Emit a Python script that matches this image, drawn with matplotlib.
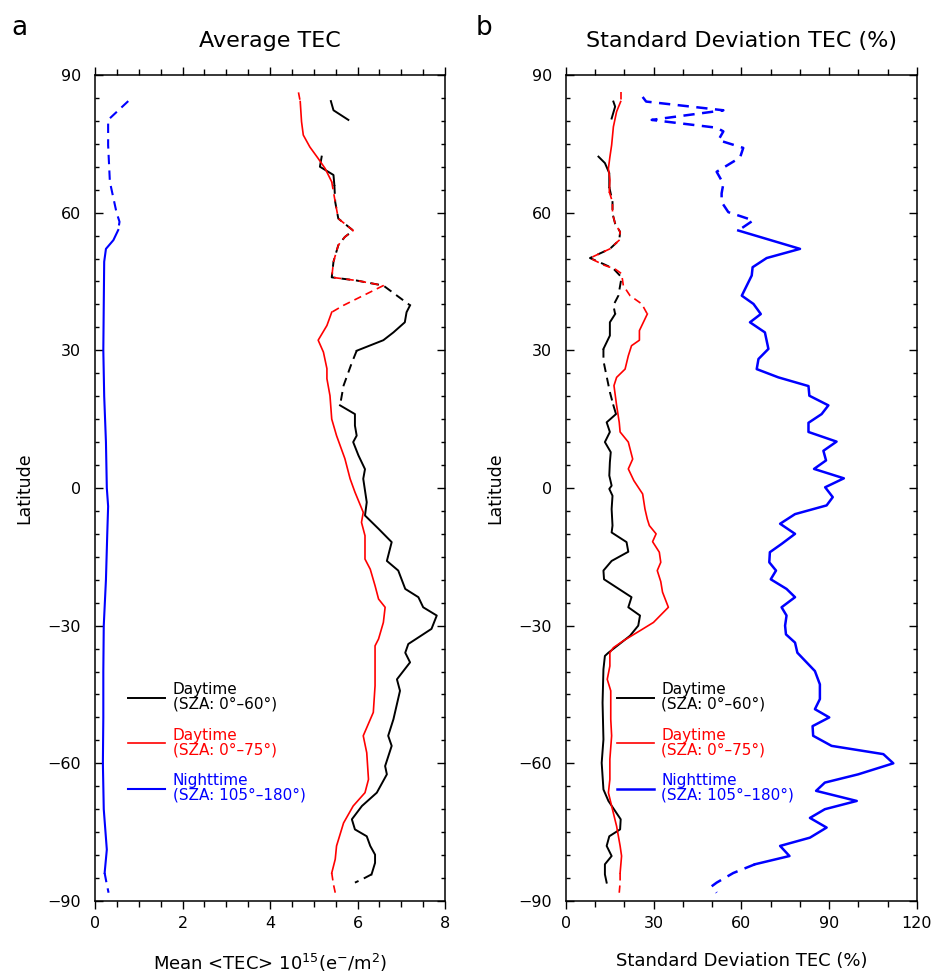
import numpy as np
import matplotlib
matplotlib.use("Agg")
import matplotlib.pyplot as plt
from matplotlib.ticker import MultipleLocator

# ---- panel a: mean TEC (10^15 e-/m^2) ----
a_black_lat = [84.3, 82.3, 80.2, 76, 72.2, 70, 68.2, 66, 62.3, 58.7, 56.1, 54.7, 52.9, 49.3, 45.9, 45.2,
               44.1, 39.8, 38.3, 36.1, 33.9, 32.2, 29.9, 27.3, 22.3, 18.0, 16.1, 13.6, 11.4, 10, 7.1, 4.1,
               2, -3.1, -6, -8.9, -11.8, -15.9, -18, -22, -23.8, -26, -27.8, -30.7, -32.2, -34, -35.9,
               -38, -41.7, -44.2, -50.4, -54, -56.2, -60.6, -62.4, -66.4, -69.3, -72.2, -74.4, -75.9,
               -78, -79.9, -81.7, -84.2, -85.2, -86]
a_black = [5.39, 5.45, 5.79, np.nan, 5.18, 5.14, 5.45, 5.47, 5.49, 5.56, 5.90, 5.71, 5.56, 5.45, 5.41, 5.98,
           6.59, 7.20, 7.12, 7.08, 6.82, 6.59, 5.98, 5.87, 5.68, 5.60, 5.94, 5.94, 5.98, 5.90, 6.02, 6.17,
           6.13, 6.21, 6.17, 6.48, 6.78, 6.67, 6.93, 7.09, 7.39, 7.50, 7.81, 7.69, 7.45, 7.16, 7.09,
           7.20, 6.90, 6.97, 6.82, 6.70, 6.78, 6.63, 6.67, 6.44, 6.10, 5.87, 5.94, 6.21,
           6.29, 6.40, 6.40, 6.32, 6.12, 5.94]
a_black_sparse = [(40, 67), (17.5, 29), (-90, -84.5)]

a_red_lat = [86.2, 84.2, 79.8, 76.9, 74.3, 71.8, 69.6, 66.7, 62.3, 58.7, 56.1, 54.7, 52.9, 49.3, 45.9, 45.2,
             44.1, 39.8, 38.3, 35.4, 32.2, 29.6, 26, 23.8, 20.1, 15, 11.4, 6.4, 2, -0.9, -5.3, -7.5, -10.4,
             -15.5, -17.7, -21.3, -24.2, -26, -29.3, -32.9, -34.4, -43.1, -48.9, -54, -57.7, -63.5, -66.4,
             -69.3, -73, -78, -80.9, -83.9, -86.4, -88.2]
a_red = [4.65, 4.69, 4.72, 4.76, 4.91, 5.10, 5.26, 5.41, 5.49, 5.56, 5.90, 5.71, 5.56, 5.45, 5.41, 5.98,
         6.59, 5.68, 5.41, 5.30, 5.10, 5.22, 5.30, 5.30, 5.37, 5.41, 5.52, 5.71, 5.83, 5.94, 6.13, 6.09, 6.17,
         6.17, 6.29, 6.40, 6.48, 6.63, 6.59, 6.48, 6.40, 6.40, 6.36, 6.13, 6.21, 6.25, 6.17,
         5.90, 5.68, 5.52, 5.49, 5.41, 5.45, 5.49]
a_red_sparse = [(85, 90), (38.8, 67), (-90, -84.5)]

a_blue_lat = [84.3, 80.2, 74.7, 66.7, 60.1, 58, 56.2, 54, 52.1, 49.3, 40, 30, 20, 10, 0, -4, -10, -20,
              -30, -40, -50, -60, -70, -78.8, -83.9, -86.4, -88.2]
a_blue = [0.76, 0.30, 0.30, 0.34, 0.49, 0.56, 0.53, 0.42, 0.25, 0.21, 0.20, 0.19, 0.21, 0.25, 0.27, 0.30,
          0.28, 0.25, 0.20, 0.19, 0.19, 0.18, 0.20, 0.27, 0.22, 0.27, 0.31]
a_blue_sparse = [(57, 90), (-90, -84.5)]

# ---- panel b: standard deviation TEC (%) ----
b_black_lat = [84.2, 83.1, 80.5, 76, 72.2, 70.8, 68.6, 65.6, 62.3, 59.8, 57.6, 55.8, 54.0, 52.1, 50.1, 48.8,
               47.8, 45.9, 41.9, 39.8, 37.9, 36.1, 33.2, 30.3, 27.7, 20.9, 18.0, 16.1, 14.3, 12.2, 10.0, 7.8,
               5.6, 2.7, 0.5, -0.2, -1.7, -4.6, -8.2, -9.7, -11.8, -13.9, -15.9, -18.0, -19.9, -23.8, -26.0,
               -27.8, -30.0, -32.2, -35.9, -36.6, -39.5, -46.8, -54.8, -59.9, -65.7, -68.2, -72.2, -74.4,
               -75.9, -78.0, -80.2, -82.0, -84.2, -86.0]
b_black = [16.2, 16.8, 15.6, np.nan, 11.1, 13.3, 14.8, 14.8, 15.9, 15.9, 16.8, 18.5, 18.2, 15.0, 8.2, 12.8,
           16.2, 19.0, 17.9, 16.2, 16.8, 15.0, 15.0, 12.8, 12.8, 15.0, 16.2, 17.1, 13.9, 15.0, 13.3, 15.3,
           15.0, 14.8, 15.6, 14.8, 15.9, 15.6, 15.9, 15.6, 20.7, 21.3, 15.6, 12.8, 13.0, 22.4, 21.3,
           25.3, 24.7, 21.9, 14.5, 13.3, 12.8, 12.5, 12.8, 12.2, 12.8, 14.5, 18.7, 18.5,
           14.8, 13.9, 15.6, 13.3, 13.3, 13.9]
b_black_sparse = [(38, 66), (17.5, 29.5)]

b_red_lat = [86.2, 84.2, 82.0, 78.7, 74.7, 72.1, 69.6, 67.1, 64.5, 62.3, 59.8, 57.6, 55.8, 54.0, 52.1, 50.1,
             48.6, 47.7, 46.7, 44.1, 41.9, 40.1, 37.9, 34.3, 32.2, 31.0, 28.8, 25.9, 24.1, 22.3, 18.0, 14.3,
             12.2, 10.0, 6.3, 4.15, 1.6, -1.3, -4.6, -6.8, -8.2, -10.0, -11.7, -14.0, -16.2, -18.0, -20.4,
             -22.7, -26.0, -29.3, -31.1, -33.3, -34.8, -35.9, -38.8, -41.7, -44.2, -50.4, -54.0, -59.1,
             -63.5, -66.4, -69.3, -73.7, -78.0, -80.2, -83.9, -86.0, -88.2]
b_red = [18.7, 18.7, 17.3, 16.2, 15.6, 15.0, 14.5, 15.0, 14.8, 15.9, 15.9, 16.8, 18.5, 18.2, 15.0, 8.2,
         12.8, 16.8, 19.0, 19.6, 21.9, 25.9, 27.8, 25.1, 25.1, 22.4, 21.3, 20.2, 17.3, 16.4, 17.3, 18.2,
         18.5, 21.3, 22.8, 21.3, 23.2, 26.2, 27.0, 27.8, 28.5, 30.8, 29.6, 31.9, 32.4, 31.2, 32.4,
         33.0, 35.0, 29.9, 25.3, 19.6, 16.2, 15.0, 15.0, 14.1, 15.3, 15.3, 15.6, 15.0,
         15.0, 14.5, 15.6, 17.3, 18.5, 19.0, 18.5, 18.5, 18.2]
b_red_sparse = [(85, 90), (38.5, 65), (-90, -84.5)]

b_blue_lat = [85.2, 84.2, 82.3, 80.2, 78.5, 77.7, 75.8, 74.1, 72, 68.9, 66.3, 64.2, 62.3, 60.1, 58.3, 56.1,
              52.1, 50.1, 48.1, 46.3, 41.9, 40.1, 37.9, 36.1, 33.9, 30.3, 28.1, 25.9, 24.1, 22.2, 20.1, 18.0,
              16.1, 14.2, 12.2, 10.1, 8.1, 6.0, 4.15, 2.1, 0.15, -2.0, -3.8, -5.7, -7.8, -10.0, -12.2, -14.0,
              -16.2, -18.0, -19.9, -22.0, -23.8, -26.0, -27.8, -30.0, -31.9, -33.7, -35.9, -39.9, -42.8,
              -46.0, -48.2, -50.0, -51.9, -54.0, -56.2, -58.0, -60.0, -62.4, -64.2, -66.0, -68.2, -70.0,
              -71.9, -74.0, -76.2, -78.0, -80.2, -82.0, -83.9, -86.0, -86.8, -88.2]
b_blue = [26.2, 27.4, 53.8, 29.3, 51.5, 53.8, 52.1, 60.6, 59.5, 51.5, 53.8, 53.2, 53.2, 55.5, 64.0, 58.9,
          80.0, 68.6, 63.8, 63.5, 60.1, 64.1, 66.6, 62.9, 68.0, 69.2, 65.8, 65.2, 72.6, 82.9, 83.2, 89.7,
          87.4, 82.9, 82.9, 92.5, 88.0, 88.9, 84.8, 95.0, 88.6, 91.2, 89.1, 78.3, 73.2, 78.3, 73.7, 69.7,
          69.5, 71.8, 70.0, 75.4, 78.3, 73.7, 75.4, 74.9, 75.2, 78.3, 79.1, 85.1, 86.8,
          86.8, 85.1, 90.0, 84.3, 84.5, 90.8, 108.5, 111.9, 99.9, 88.5, 85.5, 99.4, 88.5,
          83.4, 89.1, 83.4, 73.2, 76.4, 64.6, 57.2, 51.5, 49.8, 51.5]
b_blue_sparse = [(57, 90), (-90, -82.5)]

labels = ["Daytime\n(SZA: 0°–60°)", "Daytime\n(SZA: 0°–75°)", "Nighttime\n(SZA: 105°–180°)"]

plt.rcParams['font.family'] = ['DejaVu Sans']


def draw(ax, lat, val, sparse, color, lw, label):
    lat = np.asarray(lat, dtype=float)
    val = np.asarray(val, dtype=float)
    mid = (lat[:-1] + lat[1:]) / 2
    dashed = [any(lo < m < hi for lo, hi in sparse) for m in mid]
    start = 0
    for i in range(1, len(dashed) + 1):
        if i == len(dashed) or dashed[i] != dashed[start]:
            kw = dict(ls='--', dashes=(4.5, 3)) if dashed[start] else dict(ls='-')
            ax.plot(val[start:i + 1], lat[start:i + 1], color=color, lw=lw, **kw)
            start = i
    ax.plot([], [], color=color, lw=lw, label=label)


def style(ax, xmax, major, minor, xlabel, title, legx):
    ax.set_xlim(0, xmax)
    ax.set_ylim(-90, 90)
    ax.xaxis.set_major_locator(MultipleLocator(major))
    ax.xaxis.set_minor_locator(MultipleLocator(minor))
    ax.yaxis.set_major_locator(MultipleLocator(30))
    ax.yaxis.set_minor_locator(MultipleLocator(5))
    ax.tick_params(axis='x', which='both', direction='out', top=True, width=1, labelsize=11.5, pad=5)
    ax.tick_params(axis='x', which='major', length=6)
    ax.tick_params(axis='x', which='minor', length=4)
    ax.tick_params(axis='y', which='both', direction='in', right=True, width=1, labelsize=11.5, pad=10)
    ax.tick_params(axis='y', which='major', length=5.5)
    ax.tick_params(axis='y', which='minor', length=3)
    for s in ax.spines.values():
        s.set_linewidth(1.1)
    ax.set_xlabel(xlabel, fontsize=13, labelpad=15)
    ax.set_ylabel('Latitude', fontsize=12.5, labelpad=10)
    ax.set_title(title, fontsize=16, pad=20)
    fig.canvas.draw()
    yl = ax.get_yticklabels()
    yl[0].set_va('bottom')
    yl[-1].set_va('top')
    leg = ax.legend(loc='upper left', bbox_to_anchor=(legx, 0.272), frameon=False,
                    labelcolor='linecolor', fontsize=11, handlelength=2.4, handletextpad=0.5,
                    labelspacing=1.05, borderaxespad=0)
    for t in leg.get_texts():
        t.set_linespacing(0.95)


fig = plt.figure(figsize=(9.36, 9.77), dpi=100)
ax1 = fig.add_axes([0.1015, 0.0778, 0.374, 0.8455])
ax2 = fig.add_axes([0.6047, 0.0778, 0.375, 0.8455])

draw(ax1, a_black_lat, a_black, a_black_sparse, 'black', 1.4, labels[0])
draw(ax1, a_red_lat, a_red, a_red_sparse, 'red', 1.2, labels[1])
draw(ax1, a_blue_lat, a_blue, a_blue_sparse, 'blue', 1.5, labels[2])
style(ax1, 8, 2, 0.5, r'Mean <TEC> 10$^{15}$(e$^{-}$/m$^{2}$)', 'Average TEC', 0.078)

draw(ax2, b_black_lat, b_black, b_black_sparse, 'black', 1.4, labels[0])
draw(ax2, b_red_lat, b_red, b_red_sparse, 'red', 1.2, labels[1])
draw(ax2, b_blue_lat, b_blue, b_blue_sparse, 'blue', 1.8, labels[2])
style(ax2, 120, 30, 10, 'Standard Deviation TEC (%)', 'Standard Deviation TEC (%)', 0.128)

fig.text(0.012, 0.985, 'a', fontsize=19, va='top')
fig.text(0.508, 0.985, 'b', fontsize=19, va='top')

fig.savefig('out.png', dpi=100)
